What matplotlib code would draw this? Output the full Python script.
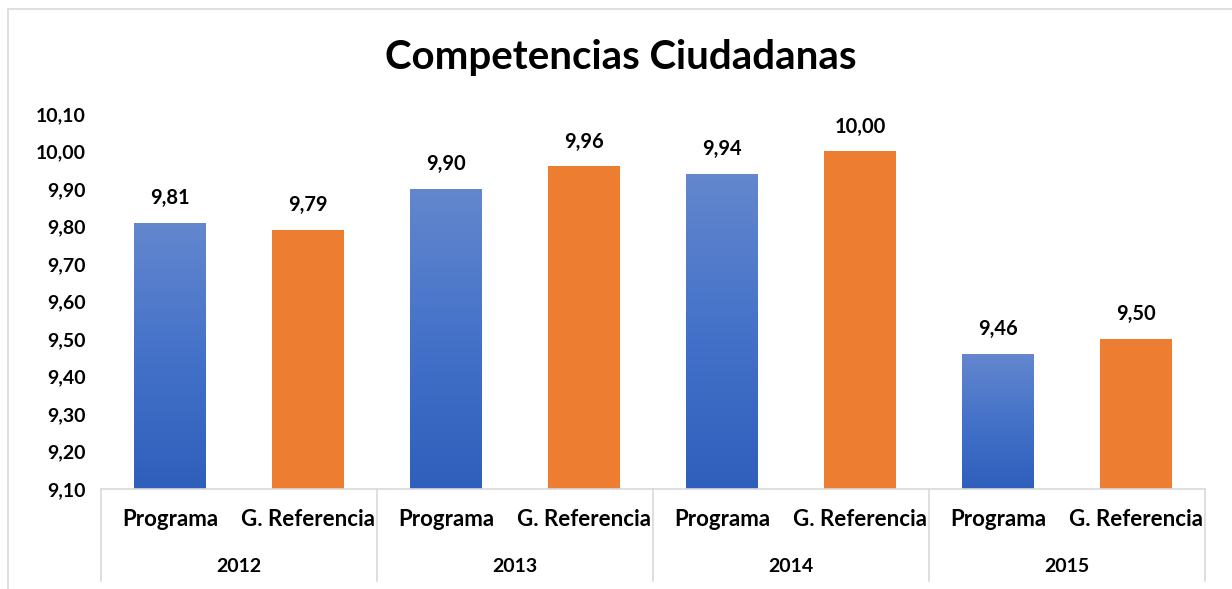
import matplotlib
matplotlib.use("Agg")
import matplotlib.pyplot as plt
import numpy as np
from matplotlib.colors import LinearSegmentedColormap
from matplotlib.patches import Rectangle

years = ["2012", "2013", "2014", "2015"]
groups = ["Programa", "G. Referencia"]
programa = [9.81, 9.90, 9.94, 9.46]
referencia = [9.79, 9.96, 10.00, 9.50]
yticks = [9.10, 9.20, 9.30, 9.40, 9.50, 9.60, 9.70, 9.80, 9.90, 10.00, 10.10]

plt.rcParams['font.family'] = ['Lato', 'DejaVu Sans']

fig = plt.figure(figsize=(12.32, 5.89), dpi=100)
ax = fig.add_axes([101/1232, 1 - 489/589, 1104/1232, 375/589])

# outer chart border (bottom edge runs off the image)
fig.patches.append(Rectangle((8/1232, -0.05), 1, 1.05 - 9/589, transform=fig.transFigure,
                             fill=False, edgecolor="#D9D9D9", linewidth=1.2))

blue_cmap = LinearSegmentedColormap.from_list("bl", ["#2F5FBC", "#4472C9", "#6487CE"])
orange = "#ED7D31"

values = []
for p, r in zip(programa, referencia):
    values += [p, r]
x = np.arange(len(values))
bw = 0.515
bars = ax.bar(x, np.array(values) - 9.10, bottom=9.10, width=bw, color="none", edgecolor="none")

grad = np.linspace(0, 1, 256).reshape(-1, 1)
for i, b in enumerate(bars):
    x0, w, y0, h = b.get_x(), b.get_width(), b.get_y(), b.get_height()
    if i % 2 == 0:
        im = ax.imshow(grad, cmap=blue_cmap, origin="lower", aspect="auto",
                       extent=[x0, x0 + w, y0, y0 + h], zorder=2)
        im.set_clip_path(b)
    else:
        ax.add_patch(Rectangle((x0, y0), w, h, facecolor=orange, edgecolor="none", zorder=2))
    ax.text(b.get_x() + w / 2, y0 + h + 0.04, f"{values[i]:.2f}".replace(".", ","),
            ha="center", va="bottom", fontsize=14.5, fontweight="bold", color="#000000")

ax.set_xlim(-0.5, len(values) - 0.5)
ax.set_ylim(9.10, 10.10)
ax.set_yticks(yticks)
ax.set_yticklabels([f"{t:.2f}".replace(".", ",") for t in yticks], fontsize=14, fontweight="bold")
ax.tick_params(axis="y", length=0, pad=11)
ax.set_xticks([])
for s in ["top", "right", "left"]:
    ax.spines[s].set_visible(False)
ax.spines["bottom"].set_color("#D9D9D9")
ax.spines["bottom"].set_linewidth(1.2)

# multi-level category axis
tr = ax.get_xaxis_transform()
for i, v in enumerate(values):
    ax.text(x[i], -0.08, groups[i % 2], transform=tr, ha="center", va="center",
            fontsize=16, fontweight="bold")
for j, yr in enumerate(years):
    ax.text(2 * j + 0.5, -0.208, yr, transform=tr, ha="center", va="center",
            fontsize=14, fontweight="bold")
for k in range(len(years) + 1):
    ax.plot([2 * k - 0.5, 2 * k - 0.5], [0, -0.245], transform=tr, color="#D9D9D9",
            linewidth=1.2, clip_on=False)

fig.text(621/1232, 1 - 57/589, "Competencias Ciudadanas", ha="center", va="center",
         fontsize=29, fontweight="bold")

fig.savefig("out.png", dpi=100)
